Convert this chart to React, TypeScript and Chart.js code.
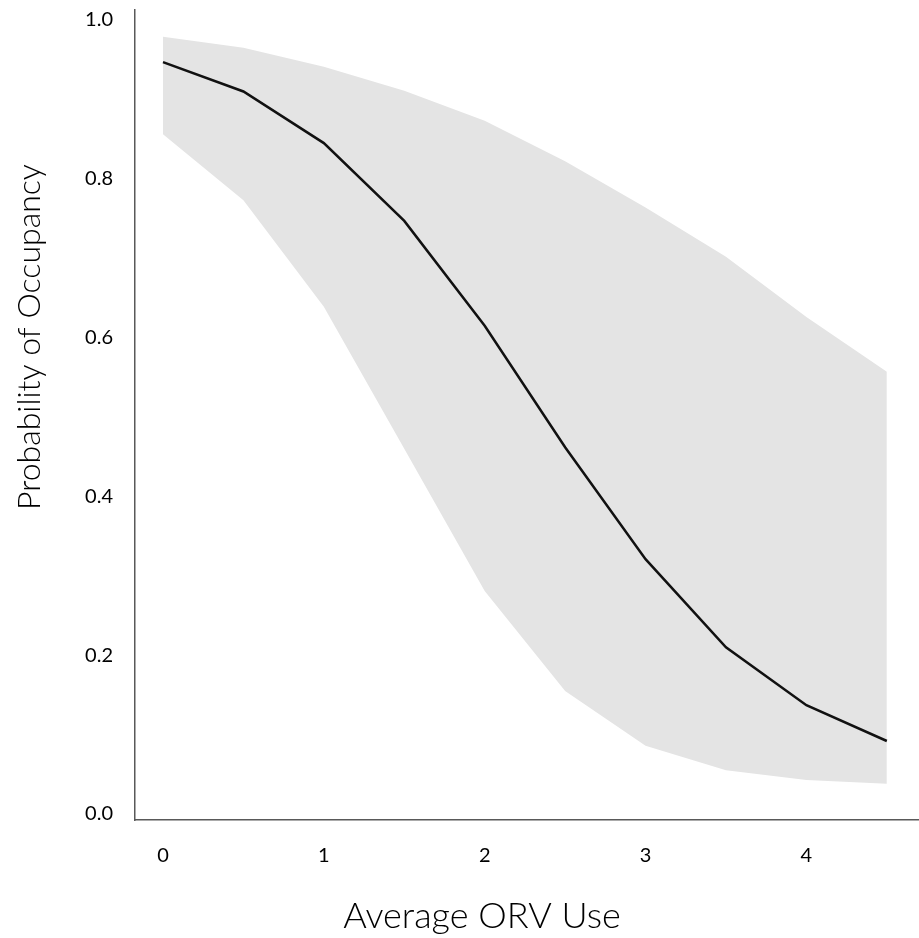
import React, { useEffect, useRef } from "react";
import { Chart, registerables } from "chart.js";

Chart.register(...registerables);

// ---- data ----
const orvUse = [0, 0.5, 1, 1.5, 2, 2.5, 3, 3.5, 4, 4.5];
const meanOccupancy = [0.947, 0.91, 0.845, 0.747, 0.615, 0.462, 0.321, 0.21, 0.137, 0.092];
const upperCI = [0.979, 0.965, 0.941, 0.911, 0.873, 0.822, 0.764, 0.702, 0.626, 0.557];
const lowerCI = [0.856, 0.773, 0.639, 0.46, 0.281, 0.155, 0.086, 0.055, 0.043, 0.038];
const xTickValues = [0, 1, 2, 3, 4];
const yTickValues = [0, 0.2, 0.4, 0.6, 0.8, 1.0];
const xTitle = "Average ORV Use";
const yTitle = "Probability of Occupancy";

const FONT = "Lato, 'Open Sans', sans-serif";

const titlesPlugin = {
  id: "customTitles",
  afterDraw(chart: any) {
    const ctx = chart.ctx;
    ctx.save();
    ctx.fillStyle = "#000";
    ctx.font = `300 36px ${FONT}`;
    ctx.textAlign = "center";
    ctx.textBaseline = "alphabetic";
    ctx.fillText(xTitle, 482, 928);
    ctx.translate(40, 337);
    ctx.rotate(-Math.PI / 2);
    ctx.font = `300 32px ${FONT}`;
    ctx.fillText(yTitle, 0, 0);
    ctx.restore();
  },
};

export default function App() {
  const canvasRef = useRef<HTMLCanvasElement | null>(null);

  useEffect(() => {
    document.body.style.margin = "0";
    const canvas = canvasRef.current;
    if (!canvas) return;
    const toPts = (ys: number[]) => orvUse.map((x, i) => ({ x, y: ys[i] }));
    const chart = new Chart(canvas, {
      type: "line",
      data: {
        datasets: [
          {
            label: "Mean",
            data: toPts(meanOccupancy),
            borderColor: "#111111",
            borderWidth: 2.5,
            pointRadius: 0,
            fill: false,
            tension: 0,
          },
          {
            label: "Upper",
            data: toPts(upperCI),
            borderColor: "rgba(0,0,0,0)",
            borderWidth: 0,
            backgroundColor: "#e4e4e4",
            pointRadius: 0,
            fill: "+1",
            tension: 0,
          },
          {
            label: "Lower",
            data: toPts(lowerCI),
            borderColor: "rgba(0,0,0,0)",
            borderWidth: 0,
            pointRadius: 0,
            fill: false,
            tension: 0,
          },
        ],
      },
      options: {
        animation: false,
        responsive: false,
        maintainAspectRatio: false,
        layout: { padding: { top: 10, left: 0, right: 0, bottom: 0 } },
        plugins: {
          legend: { display: false },
          tooltip: { enabled: false },
          title: { display: false },
        },
        scales: {
          x: {
            type: "linear",
            min: -0.174,
            max: 4.7,
            grid: { display: false, drawTicks: false },
            border: { display: true, color: "#595959", width: 1.5 },
            afterBuildTicks: (s: any) => {
              s.ticks = xTickValues.map((v) => ({ value: v }));
            },
            afterFit: (s: any) => {
              s.height = 118;
              s.paddingLeft = 0;
              s.paddingRight = 0;
            },
            ticks: {
              padding: 24,
              color: "#000",
              font: { family: FONT, size: 20 },
              maxRotation: 0,
              autoSkip: false,
              callback: (v: any) => String(v),
            },
          },
          y: {
            type: "linear",
            min: -0.0075,
            max: 1.0126,
            grid: { display: false, drawTicks: false },
            border: { display: true, color: "#595959", width: 1.5 },
            afterBuildTicks: (s: any) => {
              s.ticks = yTickValues.map((v) => ({ value: v }));
            },
            afterFit: (s: any) => {
              s.width = 135;
              s.paddingTop = 0;
              s.paddingBottom = 0;
            },
            ticks: {
              padding: 22,
              color: "#000",
              font: { family: FONT, size: 20 },
              autoSkip: false,
              callback: (v: any) => Number(v).toFixed(1),
            },
          },
        },
      },
      plugins: [titlesPlugin],
    });
    return () => chart.destroy();
  }, []);

  return (
    <div style={{ width: 919, height: 938 }}>
      <canvas ref={canvasRef} width={919} height={938} style={{ display: "block", width: 919, height: 938 }} />
    </div>
  );
}
